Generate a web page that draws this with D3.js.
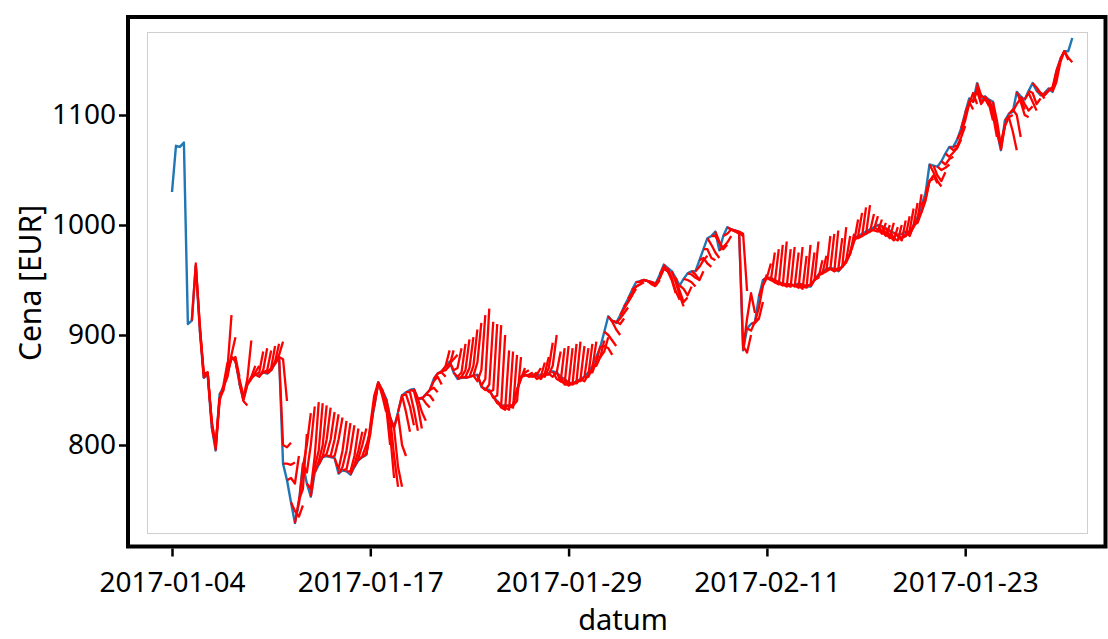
<!DOCTYPE html>
<html>
<head>
<meta charset="utf-8">
<script src="https://cdn.jsdelivr.net/npm/d3@7/dist/d3.min.js"></script>
<style>
  html, body { margin: 0; padding: 0; background: #fff; }
  svg { display: block; }
  text { font-family: "Noto Sans", "Open Sans", sans-serif; fill: #000; }
</style>
</head>
<body>
<svg id="chart" width="1108" height="639"></svg>
<script>
// ---- data ----
const xTickValues = [0, 50, 100, 150, 200];
const xTickLabels = ["2017-01-04", "2017-01-17", "2017-01-29", "2017-02-11", "2017-01-23"];
const yTickValues = [800, 900, 1000, 1100];
const xLabel = "datum";
const yLabel = "Cena [EUR]";

// observed price, one value per trading-day index
const price = [
  1030, 1072, 1071, 1075, 910, 913, 963, 905, 861, 864,
  817, 795, 846, 853, 866, 880, 877, 856, 841, 855,
  861, 864, 863, 866, 865, 868, 874, 880, 783, 768,
  748, 729, 747, 783, 765, 753, 775, 782, 789, 790,
  789, 788, 774, 777, 776, 773, 780, 786, 789, 791,
  815, 835, 857, 850, 842, 825, 816, 830, 845, 848,
  850, 851, 842, 842, 846, 850, 860, 865, 867, 871,
  876, 866, 860, 861, 861, 862, 863, 864, 853, 851,
  850, 844, 840, 836, 836, 836, 836, 850, 862, 864,
  863, 864, 863, 864, 864, 865, 867, 866, 862, 860,
  857, 856, 858, 860, 862, 866, 872, 880, 889, 903,
  917, 913, 911, 918, 926, 933, 941, 948, 949, 950,
  949, 948, 947, 955, 964, 961, 958, 952, 945, 951,
  956, 958, 958, 968, 978, 988, 990, 994, 977, 990,
  998, 996, 995, 993, 886, 906, 910, 912, 935, 950,
  952, 952, 950, 948, 947, 946, 946, 945, 947, 946,
  944, 944, 950, 955, 957, 960, 961, 960, 958, 962,
  967, 975, 988, 990, 992, 994, 996, 998, 1000, 999,
  997, 995, 993, 991, 992, 994, 992, 1000, 1007, 1018,
  1029, 1055, 1054, 1053, 1058, 1065, 1071, 1071, 1078, 1088,
  1102, 1115, 1112, 1129, 1112, 1117, 1114, 1112, 1085, 1068,
  1095, 1101, 1103, 1121, 1117, 1114, 1122, 1129, 1122, 1118,
  1120, 1124, 1121, 1140, 1151, 1158, 1158, 1170
];

// forecasts: first row starts at index forecastFirstStart, next row one index later, ...
// each row = forecast values for the 3 steps after its start
const forecastFirstStart = 5;
const forecasts = [
  [965, 908, 866], [910, 862, 866], [865, 866, 822], [866, 820, 800], [822, 800, 843],
  [798, 842, 850], [840, 855, 875], [850, 870, 918], [862, 882, 898], [878, 880, 862],
  [876, 860, 845], [858, 840, 836], [843, 860, 895], [855, 862, 872], [860, 866, 872],
  [864, 866, 885], [862, 868, 888], [866, 868, 886], [866, 870, 890], [868, 876, 892],
  [875, 882, 894], [880, 878, 840], [800, 798, 802], [783, 782, 784], [770, 765, 790],
  [740, 735, 745], [750, 760, 810], [780, 800, 829], [775, 800, 835], [760, 790, 839],
  [780, 795, 838], [785, 800, 836], [790, 805, 834], [792, 805, 830], [790, 805, 828],
  [790, 805, 825], [778, 795, 822], [780, 795, 820], [778, 795, 818], [776, 790, 815],
  [782, 795, 812], [788, 800, 815], [790, 800, 812], [792, 810, 840], [818, 845, 857],
  [838, 855, 850], [857, 845, 830], [850, 835, 800], [840, 810, 770], [825, 790, 762],
  [815, 780, 762], [828, 800, 790], [845, 830, 812], [846, 835, 818], [848, 832, 813],
  [849, 835, 815], [842, 830, 822], [843, 838, 834], [846, 845, 840], [850, 852, 848],
  [858, 862, 855], [865, 866, 862], [867, 872, 886], [868, 872, 886], [874, 878, 882],
  [868, 870, 888], [862, 866, 892], [862, 868, 896], [862, 870, 898], [862, 872, 905],
  [863, 875, 911], [858, 868, 918], [854, 860, 924], [850, 855, 912], [848, 850, 910],
  [843, 845, 909], [838, 836, 900], [834, 832, 886], [834, 832, 885], [835, 834, 882],
  [836, 840, 880], [850, 860, 870], [862, 866, 868], [863, 864, 866], [862, 863, 866],
  [862, 864, 870], [860, 862, 875], [860, 865, 880], [862, 870, 893], [864, 872, 900],
  [862, 866, 885], [860, 858, 888], [858, 856, 890], [855, 855, 888], [854, 856, 892],
  [855, 858, 894], [856, 860, 890], [858, 862, 888], [858, 864, 892], [862, 870, 894],
  [866, 876, 890], [872, 880, 895], [880, 885, 898], [890, 888, 882], [900, 895, 890],
  [912, 905, 900], [912, 910, 915], [915, 920, 925], [924, 930, 936], [930, 936, 942],
  [938, 944, 946], [944, 946, 948], [948, 950, 949], [950, 949, 946], [949, 946, 944],
  [948, 945, 950], [946, 952, 960], [952, 960, 958], [962, 958, 952], [958, 950, 938],
  [952, 940, 932], [948, 936, 926], [940, 930, 934], [942, 936, 944], [950, 948, 944],
  [955, 952, 950], [955, 950, 958], [962, 968, 972], [970, 965, 962], [978, 970, 968],
  [982, 975, 970], [990, 984, 978], [985, 978, 982], [980, 984, 990], [992, 996, 994],
  [996, 994, 992], [995, 993, 990], [994, 992, 940], [890, 884, 900], [915, 938, 920],
  [904, 912, 915], [911, 915, 930], [925, 945, 955], [945, 952, 965], [952, 950, 975],
  [950, 948, 978], [948, 946, 982], [947, 945, 985], [946, 944, 978], [945, 944, 980],
  [946, 944, 975], [945, 943, 980], [945, 942, 972], [944, 943, 982], [944, 946, 975],
  [946, 950, 985], [950, 952, 968], [954, 956, 972], [956, 958, 990], [958, 960, 992],
  [960, 958, 995], [958, 960, 988], [960, 962, 998], [962, 968, 990], [966, 974, 992],
  [974, 985, 1005], [986, 990, 1011], [988, 990, 1016], [990, 992, 1018], [992, 994, 1010],
  [994, 996, 1008], [995, 994, 1005], [996, 992, 1002], [994, 990, 1000], [992, 988, 1002],
  [990, 986, 998], [988, 986, 1000], [990, 986, 1004], [988, 990, 1008], [990, 995, 1015],
  [990, 1000, 1020], [998, 1005, 1028], [1002, 1012, 1025], [1012, 1022, 1040], [1024, 1040, 1042],
  [1040, 1045, 1038], [1048, 1040, 1035], [1045, 1040, 1048], [1050, 1052, 1055], [1055, 1060, 1062],
  [1062, 1066, 1070], [1068, 1070, 1078], [1072, 1080, 1090], [1085, 1095, 1110], [1100, 1112, 1105],
  [1110, 1120, 1110], [1112, 1125, 1115], [1122, 1110, 1115], [1118, 1115, 1108], [1115, 1110, 1095],
  [1112, 1100, 1080], [1105, 1085, 1070], [1095, 1072, 1090], [1075, 1090, 1100], [1090, 1098, 1100],
  [1098, 1085, 1068], [1105, 1100, 1080], [1110, 1115, 1105], [1112, 1100, 1098], [1110, 1104, 1108],
  [1120, 1112, 1104], [1120, 1110, 1115], [1125, 1120, 1115], [1120, 1118, 1122], [1118, 1122, 1125],
  [1122, 1125, 1140], [1124, 1135, 1150], [1130, 1148, 1158], [1150, 1158, 1150], [1158, 1152, 1148]
];

// ---- layout ----
const W = 1108, H = 639;
const frame = { left: 128, top: 17, right: 1105.5, bottom: 546.5 };
const inner = { left: 147.5, top: 32.5, right: 1087.5, bottom: 533.5 };
const FONT = '"Noto Sans", "Open Sans", sans-serif';

const svg = d3.select("#chart");
svg.append("rect").attr("width", W).attr("height", H).attr("fill", "#fff");

const x = d3.scaleLinear().domain([0, 50]).range([172, 370.3]);
const y = d3.scaleLinear().domain([800, 1100]).range([445, 115]);

// inner light frame
svg.append("rect")
  .attr("x", inner.left).attr("y", inner.top)
  .attr("width", inner.right - inner.left).attr("height", inner.bottom - inner.top)
  .attr("fill", "none").attr("stroke", "#cfcfcf").attr("stroke-width", 1);

const line = d3.line().x(d => x(d[0])).y(d => y(d[1]));

// observed price line
svg.append("path")
  .datum(price.map((v, i) => [i, v]))
  .attr("d", line)
  .attr("fill", "none")
  .attr("stroke", "#1f77b4")
  .attr("stroke-width", 2.4)
  .attr("stroke-linejoin", "round");

// forecast lines
const fcData = forecasts.map((vals, k) => {
  const s = forecastFirstStart + k;
  return [[s, price[s]]].concat(vals.map((v, j) => [s + j + 1, v]));
});
svg.append("g").selectAll("path")
  .data(fcData)
  .join("path")
  .attr("d", line)
  .attr("fill", "none")
  .attr("stroke", "#ff0000")
  .attr("stroke-width", 2.3)
  .attr("stroke-linejoin", "round");

// thick outer frame
svg.append("rect")
  .attr("x", frame.left).attr("y", frame.top)
  .attr("width", frame.right - frame.left).attr("height", frame.bottom - frame.top)
  .attr("fill", "none").attr("stroke", "#000").attr("stroke-width", 4);

// y axis
const yAxis = svg.append("g")
  .attr("transform", `translate(${frame.left - 2},0)`)
  .call(d3.axisLeft(y).tickValues(yTickValues).tickSize(7).tickPadding(3).tickFormat(d3.format("d")));
yAxis.select(".domain").remove();
yAxis.selectAll(".tick line").attr("stroke", "#000").attr("stroke-width", 2.5);
yAxis.selectAll(".tick text")
  .attr("font-size", 28).attr("fill", "#000")
  .style("font-family", FONT);

// x axis
const xAxis = svg.append("g")
  .attr("transform", `translate(0,${frame.bottom + 2})`)
  .call(d3.axisBottom(x).tickValues(xTickValues).tickSize(8).tickPadding(4)
    .tickFormat((d, i) => xTickLabels[i]));
xAxis.select(".domain").remove();
xAxis.selectAll(".tick line").attr("stroke", "#000").attr("stroke-width", 2.5);
xAxis.selectAll(".tick text")
  .attr("font-size", 28).attr("fill", "#000")
  .attr("y", 43).attr("dy", null)
  .style("font-family", FONT);

// axis titles
svg.append("text")
  .attr("x", 623).attr("y", 630)
  .attr("text-anchor", "middle")
  .attr("font-size", 29)
  .text(xLabel);

svg.append("text")
  .attr("transform", "translate(41,283) rotate(-90)")
  .attr("text-anchor", "middle")
  .attr("font-size", 30)
  .text(yLabel);
</script>
</body>
</html>
